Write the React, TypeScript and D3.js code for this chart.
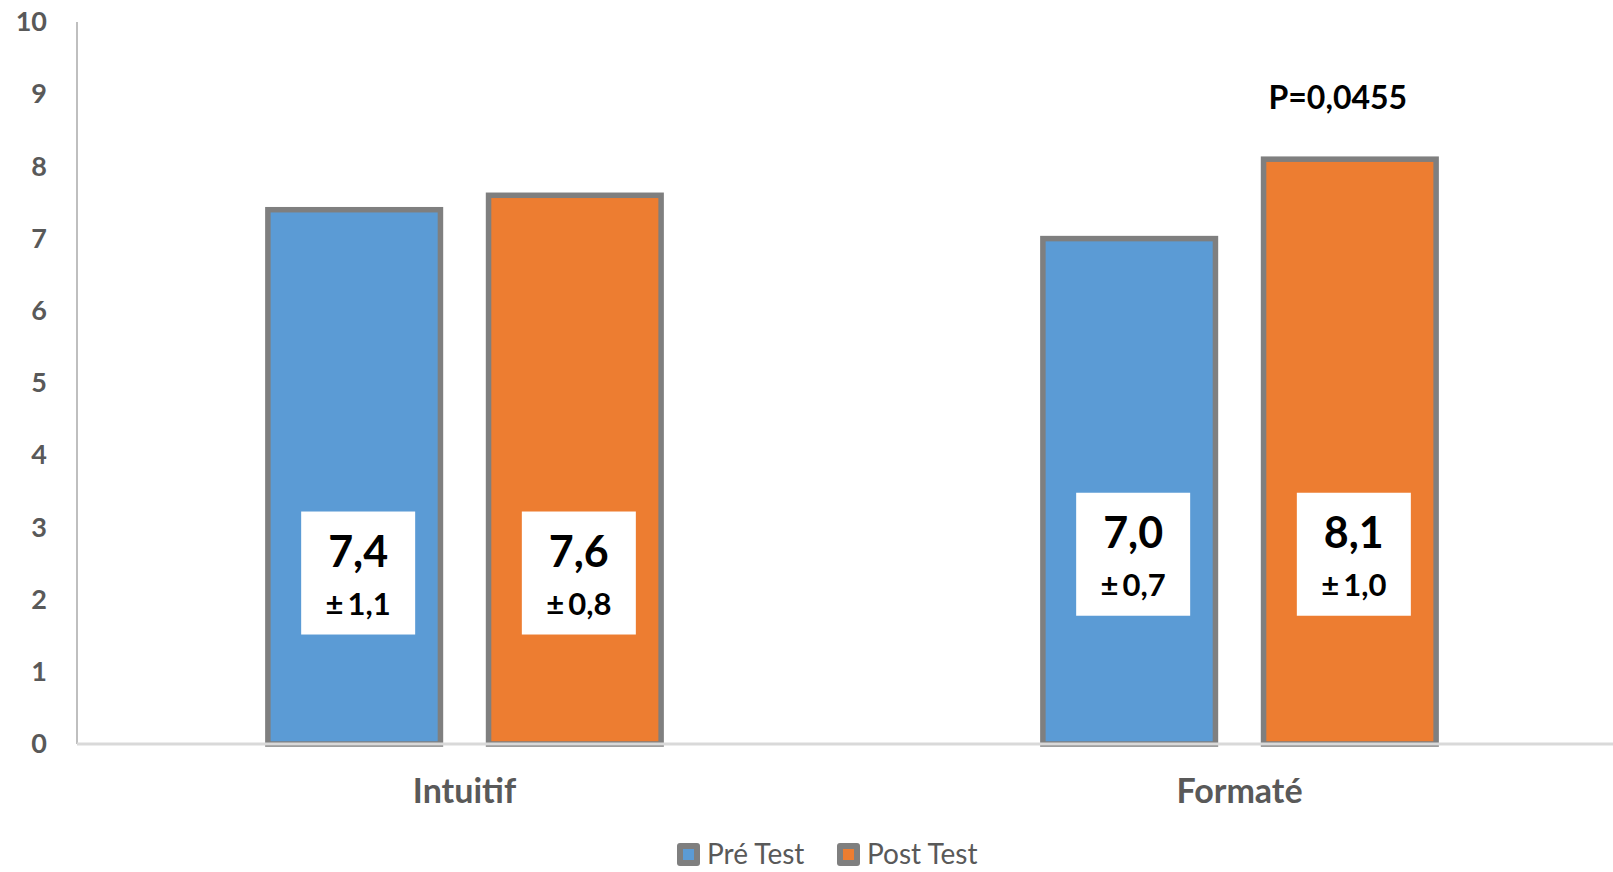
import React, { useEffect, useRef } from 'react';
import * as d3 from 'd3';

const categories = ['Intuitif', 'Formaté'];
const seriesNames = ['Pré Test', 'Post Test'];
const preValues = [7.4, 7.0];
const postValues = [7.6, 8.1];
const preSd = [1.1, 0.7];
const postSd = [0.8, 1.0];
const yTicks = [0, 1, 2, 3, 4, 5, 6, 7, 8, 9, 10];
const pValueText = 'P=0,0455';
const pValueCategory = 'Formaté';

const colors = ['#5B9BD5', '#ED7D31'];
const FONT = 'Lato, "Open Sans", sans-serif';

const App = () => {
  const svgRef = useRef<SVGSVGElement>(null);

  useEffect(() => {
    const width = 1613;
    const height = 872;
    const margin = { left: 77, top: 22, bottom: 128 };

    const svg = d3.select(svgRef.current);
    svg.selectAll('*').remove();
    svg.attr('width', width).attr('height', height);

    const fr = d3.formatLocale({ decimal: ',', thousands: ' ', grouping: [3], currency: ['', '€'] });
    const fmt = fr.format('.1f');

    const y = d3
      .scaleLinear()
      .domain([0, 10])
      .range([height - margin.bottom, margin.top]);

    const x0 = d3
      .scaleBand()
      .domain(categories)
      .range([margin.left, margin.left + 1550]);

    const x1 = d3
      .scaleBand()
      .domain(seriesNames)
      .range([0, x0.bandwidth()])
      .paddingInner(0.218)
      .paddingOuter(0.865);

    // y axis line
    svg.append('line')
      .attr('x1', margin.left).attr('x2', margin.left)
      .attr('y1', y(10)).attr('y2', y(0))
      .attr('stroke', '#bfbfbf').attr('stroke-width', 2);

    // y tick labels
    const yAxis = svg.append('g')
      .attr('transform', `translate(${margin.left},0)`)
      .call(d3.axisLeft(y).tickValues(yTicks).tickFormat(d3.format('d')).tickSize(0).tickPadding(30));
    yAxis.select('.domain').remove();
    yAxis.selectAll('text')
      .attr('font-family', FONT)
      .attr('font-size', 27)
      .attr('font-weight', 'bold')
      .attr('fill', '#595959');

    const rows = categories.map((c, i) => ({
      category: c,
      values: [
        { series: seriesNames[0], value: preValues[i], sd: preSd[i], color: colors[0] },
        { series: seriesNames[1], value: postValues[i], sd: postSd[i], color: colors[1] },
      ],
    }));

    // bars
    const groups = svg.selectAll('g.cat')
      .data(rows)
      .enter()
      .append('g')
      .attr('class', 'cat')
      .attr('transform', (d) => `translate(${x0(d.category)},0)`);

    groups.selectAll('rect.bar')
      .data((d) => d.values)
      .enter()
      .append('rect')
      .attr('class', 'bar')
      .attr('x', (d) => x1(d.series) as number)
      .attr('y', (d) => y(d.value))
      .attr('width', x1.bandwidth())
      .attr('height', (d) => y(0) - y(d.value))
      .attr('fill', (d) => d.color)
      .attr('stroke', '#7f7f7f')
      .attr('stroke-width', 5.5);

    // x axis line
    svg.append('line')
      .attr('x1', margin.left).attr('x2', width)
      .attr('y1', y(0)).attr('y2', y(0))
      .attr('stroke', '#d9d9d9').attr('stroke-width', 3);

    // value boxes (top position in data units, per category)
    const boxTop = [3.22, 3.48];
    const boxW = 114;
    const boxH = 123;
    groups.each(function (d, ci) {
      const g = d3.select(this);
      d.values.forEach((v) => {
        const cx = (x1(v.series) as number) + x1.bandwidth() / 2 + 4;
        const top = y(boxTop[ci]);
        g.append('rect')
          .attr('x', cx - boxW / 2).attr('y', top)
          .attr('width', boxW).attr('height', boxH)
          .attr('fill', '#ffffff');
        g.append('text')
          .attr('x', cx).attr('y', top + 55)
          .attr('text-anchor', 'middle')
          .attr('font-family', FONT)
          .attr('font-size', 43)
          .attr('font-weight', 'bold')
          .attr('fill', '#000')
          .text(fmt(v.value));
        g.append('text')
          .attr('x', cx).attr('y', top + 103)
          .attr('text-anchor', 'middle')
          .attr('font-family', FONT)
          .attr('font-size', 31)
          .attr('font-weight', 'bold')
          .attr('fill', '#000')
          .text(`±\u2009${fmt(v.sd)}`);
      });
    });

    // p value annotation
    svg.append('text')
      .attr('x', (x0(pValueCategory) as number) + (x1(seriesNames[1]) as number) + x1.bandwidth() / 2 - 12)
      .attr('y', 109)
      .attr('text-anchor', 'middle')
      .attr('font-family', FONT)
      .attr('font-size', 32)
      .attr('font-weight', 'bold')
      .attr('fill', '#000')
      .text(pValueText);

    // x category labels
    const xAxis = svg.append('g')
      .attr('transform', `translate(0,${y(0)})`)
      .call(d3.axisBottom(x0).tickSize(0).tickPadding(35));
    xAxis.select('.domain').remove();
    xAxis.selectAll('text')
      .attr('font-family', FONT)
      .attr('font-size', 34)
      .attr('font-weight', 'bold')
      .attr('fill', '#595959');

    // legend
    const legend = svg.append('g').attr('transform', 'translate(677,843)');
    seriesNames.forEach((s, i) => {
      const item = legend.append('g').attr('transform', `translate(${i * 160},0)`);
      item.append('rect')
        .attr('width', 23).attr('height', 23).attr('rx', 3)
        .attr('fill', '#7f7f7f');
      item.append('rect')
        .attr('x', 6).attr('y', 6).attr('width', 11).attr('height', 11)
        .attr('fill', colors[i]);
      item.append('text')
        .attr('x', 30).attr('y', 21)
        .attr('font-family', FONT)
        .attr('font-size', 28)
        .attr('fill', '#595959')
        .text(s);
    });
  }, []);

  return (
    <svg ref={svgRef} style={{ position: 'absolute', left: 0, top: 0, background: '#fff' }}></svg>
  );
};

export default App;
